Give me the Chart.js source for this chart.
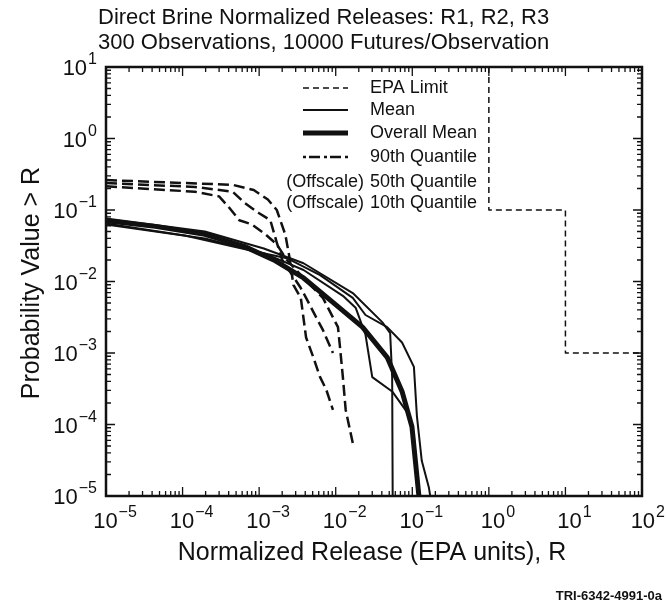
<!DOCTYPE html>
<html>
<head>
<meta charset="utf-8">
<script src="https://cdn.jsdelivr.net/npm/chart.js@4/dist/chart.umd.min.js"></script>
<style>
  html, body { margin: 0; padding: 0; background: #fff; }
  #wrap { width: 667px; height: 607px; }
</style>
</head>
<body>
<div id="wrap"><canvas id="chart" width="667" height="607"></canvas></div>
<script>
// axis ranges (log decades)
var xDecades = [-5, -4, -3, -2, -1, 0, 1, 2];
var yDecades = [-5, -4, -3, -2, -1, 0, 1];

// EPA limit step line
var epaLimit = [[1, 10], [1, 0.1], [10, 0.1], [10, 0.001], [100, 0.001]];

// mean CCDFs, one per replicate (thin solid)
var meanR1 = [[1e-5, 0.076], [1.95e-4, 0.050], [1.15e-3, 0.029], [3.8e-3, 0.018], [0.0167, 0.0069],
              [0.0405, 0.0027], [0.0514, 0.0019], [0.0546, 4.6e-4], [0.056, 1e-6]];
var meanR2 = [[1e-5, 0.065], [1.07e-4, 0.044], [8.6e-4, 0.0265], [2.3e-3, 0.0212], [6.25e-3, 0.0123],
              [0.0167, 0.0059], [0.0245, 0.0034], [0.047, 0.0023], [0.0735, 0.0014], [0.105, 6.4e-4],
              [0.115, 1.3e-4], [0.133, 3.1e-5], [0.165, 1.3e-5], [0.185, 6e-6]];
var meanR3 = [[1e-5, 0.0628], [1.95e-4, 0.040], [1.15e-3, 0.0249], [3.8e-3, 0.0145], [0.0124, 0.0063],
              [0.0182, 0.0043], [0.0245, 0.0018], [0.030, 4.6e-4], [0.0546, 2.9e-4], [0.085, 1.5e-4],
              [0.105, 6.8e-5], [0.122, 1e-5], [0.125, 5e-6]];

// overall mean (thick solid)
var overallMean = [[1e-5, 0.071], [4.4e-5, 0.059], [1.95e-4, 0.0456], [6.4e-4, 0.031], [1.55e-3, 0.020],
                   [3.8e-3, 0.0112], [9.2e-3, 0.0051], [0.0224, 0.0023], [0.047, 8.7e-4], [0.0735, 2.9e-4],
                   [0.099, 9.3e-5], [0.122, 1e-5], [0.125, 5e-6]];

// 90th quantile CCDFs, one per replicate (dashed)
var q90R1 = [[1e-5, 0.262], [4.5e-4, 0.225], [8.5e-4, 0.19], [1.3e-3, 0.14], [1.7e-3, 0.10],
             [2.2e-3, 0.045], [2.5e-3, 0.0212], [2.8e-3, 0.009], [3.5e-3, 0.0059], [4.1e-3, 0.00165],
             [5.1e-3, 8.7e-4], [6.25e-3, 4.6e-4], [7.5e-3, 3.1e-4], [9.2e-3, 1.6e-4]];
var q90R2 = [[1e-5, 0.238], [1.45e-4, 0.21], [4.5e-4, 0.18], [6.5e-4, 0.125], [1.0e-3, 0.09],
             [1.4e-3, 0.072], [1.7e-3, 0.035], [2.0e-3, 0.020], [3.5e-3, 0.0081], [4.1e-3, 0.0059],
             [5.6e-3, 0.0031], [6.8e-3, 0.0021], [9.2e-3, 0.0010]];
var q90R3 = [[1e-5, 0.215], [1.45e-4, 0.18], [3e-4, 0.155], [4e-4, 0.11], [5.5e-4, 0.072],
             [8e-4, 0.063], [1.2e-3, 0.046], [1.7e-3, 0.033], [2.3e-3, 0.020], [3.8e-3, 0.0112],
             [6.8e-3, 0.0059], [0.0107, 0.0023], [0.0113, 0.0013], [0.0124, 4.6e-4], [0.0135, 1.6e-4],
             [0.0167, 5.5e-5]];

var titleLines = ['Direct Brine Normalized Releases: R1, R2, R3',
                  '300 Observations, 10000 Futures/Observation'];
var xTitle = 'Normalized Release (EPA units), R';
var yTitle = 'Probability Value > R';
var footNote = 'TRI-6342-4991-0a';
var legendRows = [
    {prefix: '', label: 'EPA Limit', width: 1.5, dash: [6, 4]},
    {prefix: '', label: 'Mean', width: 2, dash: []},
    {prefix: '', label: 'Overall Mean', width: 5, dash: []},
    {prefix: '', label: '90th Quantile', width: 2.5, dash: [3, 3, 11, 4]},
    {prefix: '(Offscale)', label: '50th Quantile', width: 0, dash: []},
    {prefix: '(Offscale)', label: '10th Quantile', width: 0, dash: []}
];

var FONT = '"Liberation Sans", Arial, Helvetica, sans-serif';
var INK = '#111';

function toPoints(pairs) {
    return pairs.map(function(p) { return {x: p[0], y: p[1]}; });
}

function lineSet(label, pairs, width, dash) {
    return {
        label: label,
        data: toPoints(pairs),
        borderColor: INK,
        borderWidth: width,
        borderDash: dash,
        pointRadius: 0,
        fill: false,
        tension: 0,
        borderCapStyle: 'butt',
        borderJoinStyle: 'round'
    };
}

// "10" with a raised exponent
function powLabel(ctx, exp, x, y, align) {
    var base = '10', sup = (exp < 0 ? '\u2212' : '') + Math.abs(exp);
    ctx.font = '22px ' + FONT;
    var wb = ctx.measureText(base).width;
    ctx.font = '16px ' + FONT;
    var ws = ctx.measureText(sup).width;
    var total = wb + ws + 1;
    var left = align === 'right' ? x - total : x - total / 2;
    // keep the last label inside the canvas
    left = Math.min(left, 665 - total);
    ctx.textAlign = 'left';
    ctx.textBaseline = 'alphabetic';
    ctx.font = '22px ' + FONT;
    ctx.fillText(base, left, y + 8);
    ctx.font = '16px ' + FONT;
    ctx.fillText(sup, left + wb + 1, y - 3);
}

var decorPlugin = {
    id: 'decor',
    afterDraw: function(chart) {
        var ctx = chart.ctx, a = chart.chartArea;
        var xs = chart.scales.x, ys = chart.scales.y;
        ctx.save();
        ctx.fillStyle = INK;
        ctx.strokeStyle = INK;

        // frame
        ctx.lineWidth = 2.5;
        ctx.strokeRect(a.left, a.top, a.right - a.left, a.bottom - a.top);

        // inward ticks on all four sides
        ctx.lineWidth = 1.3;
        ctx.beginPath();
        xDecades.forEach(function(d) {
            for (var m = 1; m <= 9; m++) {
                var v = m * Math.pow(10, d);
                if (v > Math.pow(10, xDecades[xDecades.length - 1])) break;
                var px = xs.getPixelForValue(v);
                var len = m === 1 ? 9 : 5;
                ctx.moveTo(px, a.bottom); ctx.lineTo(px, a.bottom - len);
                ctx.moveTo(px, a.top); ctx.lineTo(px, a.top + len);
            }
        });
        yDecades.forEach(function(d) {
            for (var m = 1; m <= 9; m++) {
                var v = m * Math.pow(10, d);
                if (v > Math.pow(10, yDecades[yDecades.length - 1])) break;
                var py = ys.getPixelForValue(v);
                var len = m === 1 ? 9 : 5;
                ctx.moveTo(a.left, py); ctx.lineTo(a.left + len, py);
                ctx.moveTo(a.right, py); ctx.lineTo(a.right - len, py);
            }
        });
        ctx.stroke();

        // tick labels
        xDecades.forEach(function(d) {
            powLabel(ctx, d, xs.getPixelForValue(Math.pow(10, d)) + 9, a.bottom + 24, 'center');
        });
        yDecades.forEach(function(d) {
            powLabel(ctx, d, a.left - 9, ys.getPixelForValue(Math.pow(10, d)), 'right');
        });

        // axis titles
        ctx.font = '25px ' + FONT;
        ctx.textAlign = 'center';
        ctx.textBaseline = 'middle';
        ctx.fillText(xTitle, 372, 553);
        ctx.save();
        ctx.translate(32, 283);
        ctx.rotate(-Math.PI / 2);
        ctx.fillText(yTitle, 0, 0);
        ctx.restore();

        // chart title
        ctx.font = '22px ' + FONT;
        ctx.textAlign = 'left';
        ctx.fillText(titleLines[0], 98, 18);
        ctx.fillText(titleLines[1], 98, 43);

        // legend
        var lx0 = 303, lx1 = 348, tx = 370;
        var rowY = [88, 110, 133, 157, 182, 203];
        ctx.font = '18px ' + FONT;
        legendRows.forEach(function(r, i) {
            var y = rowY[i];
            if (r.width > 0) {
                ctx.lineWidth = r.width;
                ctx.setLineDash(r.dash);
                ctx.beginPath();
                ctx.moveTo(lx0, y); ctx.lineTo(lx1, y);
                ctx.stroke();
                ctx.setLineDash([]);
            }
            if (r.prefix) {
                ctx.textAlign = 'right';
                ctx.fillText(r.prefix, tx - 6, y);
            }
            ctx.textAlign = 'left';
            ctx.fillText(r.label, tx, y);
        });

        // figure id
        ctx.font = 'bold 13px ' + FONT;
        ctx.textAlign = 'right';
        ctx.fillText(footNote, 662, 596);
        ctx.restore();
    }
};

var chart = new Chart(document.getElementById('chart'), {
    type: 'line',
    data: {
        datasets: [
            lineSet('EPA Limit', epaLimit, 1.5, [6, 4]),
            lineSet('Mean R1', meanR1, 2, []),
            lineSet('Mean R2', meanR2, 2, []),
            lineSet('Mean R3', meanR3, 2, []),
            lineSet('Overall Mean', overallMean, 5, []),
            lineSet('90th Quantile R1', q90R1, 2.5, [11, 5]),
            lineSet('90th Quantile R2', q90R2, 2.5, [11, 5]),
            lineSet('90th Quantile R3', q90R3, 2.5, [11, 5])
        ]
    },
    options: {
        responsive: false,
        animation: false,
        devicePixelRatio: 1,
        layout: {padding: {left: 106, right: 25, top: 67, bottom: 111}},
        plugins: {legend: {display: false}, tooltip: {enabled: false}},
        scales: {
            x: {
                type: 'logarithmic',
                min: Math.pow(10, xDecades[0]),
                max: Math.pow(10, xDecades[xDecades.length - 1]),
                ticks: {display: false},
                grid: {display: false},
                border: {display: false},
                afterFit: function(s) { s.height = 0; }
            },
            y: {
                type: 'logarithmic',
                min: Math.pow(10, yDecades[0]),
                max: Math.pow(10, yDecades[yDecades.length - 1]),
                ticks: {display: false},
                grid: {display: false},
                border: {display: false},
                afterFit: function(s) { s.width = 0; }
            }
        }
    },
    plugins: [decorPlugin]
});
</script>
</body>
</html>
